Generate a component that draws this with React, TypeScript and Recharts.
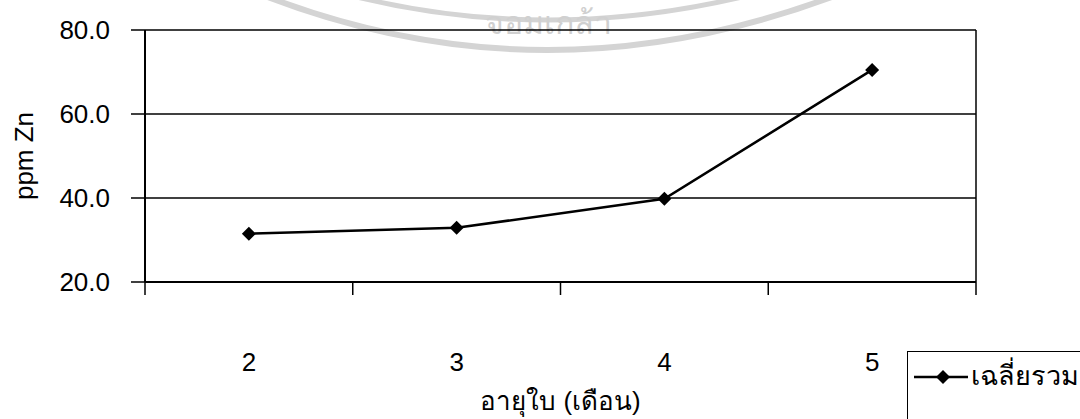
import { LineChart, Line, XAxis, YAxis, CartesianGrid, ReferenceLine } from 'recharts';

const months = [2, 3, 4, 5];
const avgZn = [31.5, 32.9, 39.8, 70.5];
const yTicks = [20, 40, 60, 80];
const boundaryTicks = [1.5, 2.5, 3.5, 4.5, 5.5];

const data = months.map((m, i) => ({ month: m, avg: avgZn[i] }));

const FONT = '"Liberation Sans", Arial, sans-serif';

const Diamond = ({ cx, cy }: { cx?: number; cy?: number }) => {
  if (cx == null || cy == null) return null;
  const r = 7;
  return (
    <polygon
      points={`${cx},${cy - r} ${cx + r},${cy} ${cx},${cy + r} ${cx - r},${cy}`}
      fill="#000"
    />
  );
};

const MonthTick = ({ x, y, payload }: any) => (
  <text
    x={x}
    y={y + 67}
    textAnchor="middle"
    dominantBaseline="central"
    fontSize={26}
    fontFamily={FONT}
    fill="#000"
  >
    {payload.value}
  </text>
);

const EmptyTick = () => <g />;

const YTitle = ({ viewBox }: any) => {
  const cy = viewBox.y + viewBox.height / 2;
  return (
    <text
      x={24}
      y={cy}
      transform={`rotate(-90, 24, ${cy})`}
      textAnchor="middle"
      dominantBaseline="central"
      fontSize={26}
      fontFamily={FONT}
      fill="#000"
    >
      ppm Zn
    </text>
  );
};

const LegendBox = () => (
  <div
    style={{
      position: 'absolute',
      left: 907,
      top: 351,
      width: 180,
      height: 80,
      border: '1px solid #000',
      boxSizing: 'border-box',
      background: '#fff',
    }}
  >
    <svg width={60} height={40} style={{ position: 'absolute', left: 5, top: 5 }}>
      <line x1={1} y1={20} x2={55} y2={20} stroke="#000" strokeWidth={2.5} />
      <polygon points="30,13 37,20 30,27 23,20" fill="#000" />
    </svg>
    <span
      style={{
        position: 'absolute',
        left: 63,
        top: 6,
        fontSize: 27,
        lineHeight: '36px',
        fontFamily: FONT,
        color: '#000',
        whiteSpace: 'nowrap',
      }}
    >
      เฉลี่ยรวม
    </span>
  </div>
);

export default function App() {
  return (
    <div style={{ position: 'absolute', left: 0, top: 0, width: 1080, height: 419, background: '#fff', overflow: 'hidden' }}>
      <svg width={1080} height={419} style={{ position: 'absolute', left: 0, top: 0 }}>
        <path d="M 250 -10 Q 545 110 850 -10" stroke="#d4d4d4" strokeWidth={6} fill="none" />
        <path d="M 330 -10 Q 545 50 770 -10" stroke="#d4d4d4" strokeWidth={5} fill="none" />
        <text x={548} y={34} textAnchor="middle" fontSize={32} fontFamily={FONT} fill="#d0d0d0">
          จอมเกล้า
        </text>
      </svg>
      <div style={{ position: 'absolute', left: 0, top: 0 }}>
        <LineChart
          width={1080}
          height={419}
          data={data}
          margin={{ top: 30, right: 104, left: 0, bottom: 0 }}
          style={{ fontFamily: FONT }}
        >
          <CartesianGrid vertical={false} stroke="#000" strokeWidth={1.5} />
          <XAxis
            xAxisId="grid"
            type="number"
            dataKey="month"
            domain={[1.5, 5.5]}
            ticks={boundaryTicks}
            tick={<EmptyTick />}
            tickSize={13}
            height={13}
            axisLine={{ stroke: '#000', strokeWidth: 2 }}
            tickLine={{ stroke: '#000', strokeWidth: 1.5 }}
          />
          <XAxis
            xAxisId="labels"
            type="number"
            dataKey="month"
            domain={[1.5, 5.5]}
            ticks={months}
            tick={<MonthTick />}
            tickSize={0}
            tickMargin={0}
            height={124}
            axisLine={false}
            tickLine={false}
            label={{
              value: 'อายุใบ (เดือน)',
              position: 'insideBottom',
              offset: 9,
              fontSize: 26,
              fill: '#000',
              fontFamily: FONT,
            }}
          />
          <YAxis
            type="number"
            domain={[20, 80]}
            ticks={yTicks}
            width={145}
            tickSize={14}
            tickMargin={21}
            tickFormatter={(v: number) => v.toFixed(1)}
            tick={{ fontSize: 26, fill: '#000', fontFamily: FONT }}
            axisLine={{ stroke: '#000', strokeWidth: 2 }}
            tickLine={{ stroke: '#000', strokeWidth: 1.5 }}
            label={{ content: <YTitle /> }}
          />
          <ReferenceLine xAxisId="grid" x={5.5} stroke="#000" strokeWidth={1.5} />
          <Line
            xAxisId="grid"
            type="linear"
            dataKey="avg"
            name="เฉลี่ยรวม"
            stroke="#000"
            strokeWidth={2.5}
            dot={<Diamond />}
            activeDot={false}
            isAnimationActive={false}
          />
        </LineChart>
      </div>
      <LegendBox />
    </div>
  );
}
